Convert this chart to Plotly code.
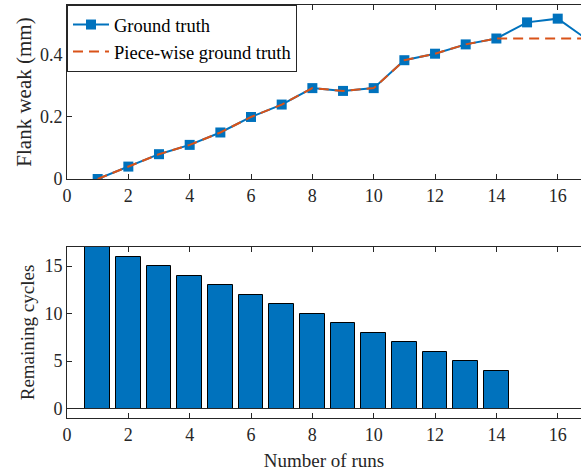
import plotly.graph_objects as go

# Run index and measured tool wear
runs = list(range(1, 18))
ground_truth = [0.0, 0.04, 0.08, 0.11, 0.15, 0.20, 0.24, 0.293, 0.284, 0.293,
                0.383, 0.404, 0.434, 0.453, 0.505, 0.517, 0.447]
piecewise_truth = [0.0, 0.04, 0.08, 0.11, 0.15, 0.20, 0.24, 0.293, 0.284, 0.293,
                   0.383, 0.404, 0.434, 0.453, 0.453, 0.453, 0.453]
remaining_cycles = [17, 16, 15, 14, 13, 12, 11, 10, 9, 8, 7, 6, 5, 4, 0, 0, 0]

x_ticks = [0, 2, 4, 6, 8, 10, 12, 14, 16]

BLUE = "#0072BD"
ORANGE = "#D95319"
INK = "#262626"
FONT = "Liberation Serif"

W, H = 581, 475
M_L, M_R, M_T, M_B = 67, 0, 5, 57
plot_h = H - M_T - M_B
px_per_run = 30.67
x_max = (W - M_L) / px_per_run

fig = go.Figure()

fig.add_trace(go.Scatter(
    x=runs, y=ground_truth, mode="lines+markers", name="Ground truth",
    line=dict(color=BLUE, width=2),
    marker=dict(symbol="square", size=10, color=BLUE),
    xaxis="x", yaxis="y",
))
fig.add_trace(go.Scatter(
    x=runs, y=piecewise_truth, mode="lines", name="Piece-wise ground truth",
    line=dict(color=ORANGE, width=2, dash="10px,6px"),
    xaxis="x", yaxis="y",
))
fig.add_trace(go.Bar(
    x=runs, y=remaining_cycles, width=0.8, showlegend=False,
    marker=dict(color=BLUE, line=dict(color="black", width=1)),
    xaxis="x2", yaxis="y2",
))


def frame_axis(**kw):
    base = dict(
        showline=True, linecolor=INK, linewidth=1,
        ticks="inside", ticklen=5, tickcolor=INK,
        showgrid=False, zeroline=False, automargin=False,
        tickfont=dict(family=FONT, size=18, color=INK),
    )
    base.update(kw)
    return base


def dom(top_px, bottom_px):
    return [(H - M_B - bottom_px) / plot_h, (H - M_B - top_px) / plot_h]


top_dom = dom(5, 179)
bot_dom = dom(247, 418)

fig.update_layout(
    width=W, height=H,
    margin=dict(l=M_L, r=M_R, t=M_T, b=M_B, pad=0),
    paper_bgcolor="white", plot_bgcolor="white",
    font=dict(family=FONT, color=INK),
    xaxis=frame_axis(domain=[0, 1], range=[0, x_max], tickvals=x_ticks,
                     mirror="ticks", anchor="y"),
    yaxis=frame_axis(domain=top_dom, range=[0, 0.561], tickvals=[0, 0.2, 0.4],
                     ticktext=["0", "0.2", "0.4"], anchor="x",
                     title=dict(text="Flank weak (mm)",
                                font=dict(family=FONT, size=21, color=INK),
                                standoff=2)),
    xaxis2=frame_axis(domain=[0, 1], range=[0, x_max], tickvals=x_ticks,
                      mirror="ticks", anchor="y2",
                      title=dict(text="Number of runs",
                                 font=dict(family=FONT, size=19, color=INK),
                                 standoff=10)),
    yaxis2=frame_axis(domain=bot_dom, range=[-1, 17], tickvals=[0, 5, 10, 15],
                      anchor="x2",
                      title=dict(text="Remaining cycles",
                                 font=dict(family=FONT, size=19, color=INK),
                                 standoff=4)),
    legend=dict(
        x=0, y=1, xanchor="left", yanchor="top",
        bgcolor="white", bordercolor=INK, borderwidth=1,
        font=dict(family=FONT, size=18.5, color="black"),
        itemwidth=36, tracegroupgap=0,
    ),
    showlegend=True,
    bargap=0,
    shapes=[
        # bar baseline at zero
        dict(type="line", xref="x2 domain", yref="y2", x0=0, x1=1, y0=0, y1=0,
             line=dict(color=INK, width=1)),
    ],
)

fig.write_html("out.html")
